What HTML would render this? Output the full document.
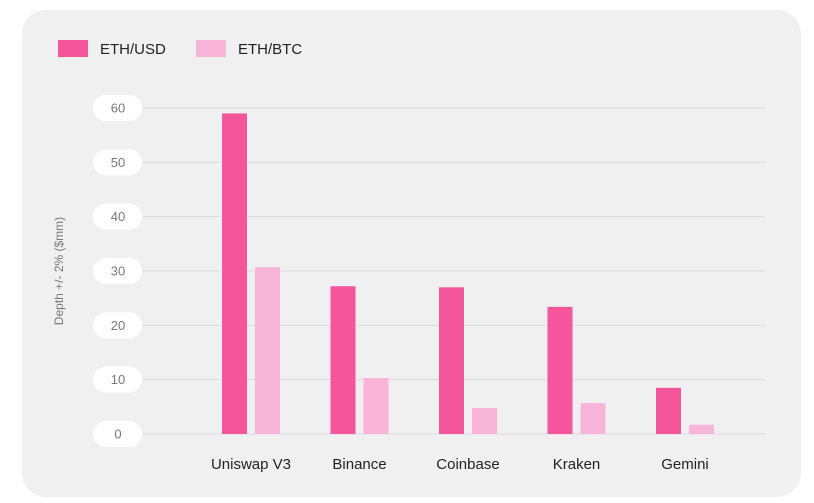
<!DOCTYPE html>
<html><head><meta charset="utf-8"><style>
html,body{margin:0;padding:0;background:#fff;width:814px;height:503px;overflow:hidden;font-family:"Liberation Sans",sans-serif}
#card{position:absolute;left:22px;top:10px;width:779px;height:487px;background:#f0f0f0;border-radius:24px}
</style></head><body>
<div id="card"></div>
<svg id="chart" width="814" height="503" style="position:absolute;left:0;top:0">
<g>
<rect x="58" y="40" width="30" height="17" fill="#f5559a"/>
<text x="100" y="54" font-size="15" fill="#222">ETH/USD</text>
<rect x="196" y="40" width="30" height="17" fill="#f9b5d8"/>
<text x="238" y="54" font-size="15" fill="#222">ETH/BTC</text>
</g>
<text transform="translate(63,271) rotate(-90)" text-anchor="middle" font-size="12" fill="#777">Depth +/- 2% ($mm)</text>
<g id="grid"></g><g id="bars"></g><g id="xlabels"></g>
</svg>
<script>
const categories=["Uniswap V3","Binance","Coinbase","Kraken","Gemini"];
const ethUsd=[59,27.2,27.0,23.4,8.5];
const ethBtc=[30.7,10.3,4.8,5.7,1.7];
const yTicks=[0,10,20,30,40,50,60];
const NS="http://www.w3.org/2000/svg";
const y=v=>434-v*(326/60);
const xc=i=>251+i*108.5;
function mk(t,a,p){const e=document.createElementNS(NS,t);for(const k in a)e.setAttribute(k,a[k]);p.appendChild(e);return e;}
const grid=document.getElementById('grid');
yTicks.forEach(t=>{
 const l=mk('line',{x1:143,x2:765,y1:y(t),y2:y(t),stroke:'#dcdcdc','stroke-width':1},grid);
 
 
 const r=mk('rect',{x:93,y:y(t)-13,width:49,height:26,rx:13,fill:'#fff'},grid);
 
 
 const tx=mk('text',{x:118,y:y(t)+4.5,'text-anchor':'middle','font-size':13,fill:'#777'},grid);
 tx.textContent=t;
 
 
});
const bars=document.getElementById('bars'),xl=document.getElementById('xlabels');
categories.forEach((c,i)=>{
 const b1=mk('rect',{x:xc(i)-29,y:y(ethUsd[i]),width:25,height:y(0)-y(ethUsd[i]),fill:'#f5559a'},bars);
 
 
 const b2=mk('rect',{x:xc(i)+4,y:y(ethBtc[i]),width:25,height:y(0)-y(ethBtc[i]),fill:'#f9b5d8'},bars);
 
 
 const t=mk('text',{x:xc(i),y:469,'text-anchor':'middle','font-size':15,fill:'#222'},xl);
 t.textContent=c;
 
 
});
</script>
</body></html>
